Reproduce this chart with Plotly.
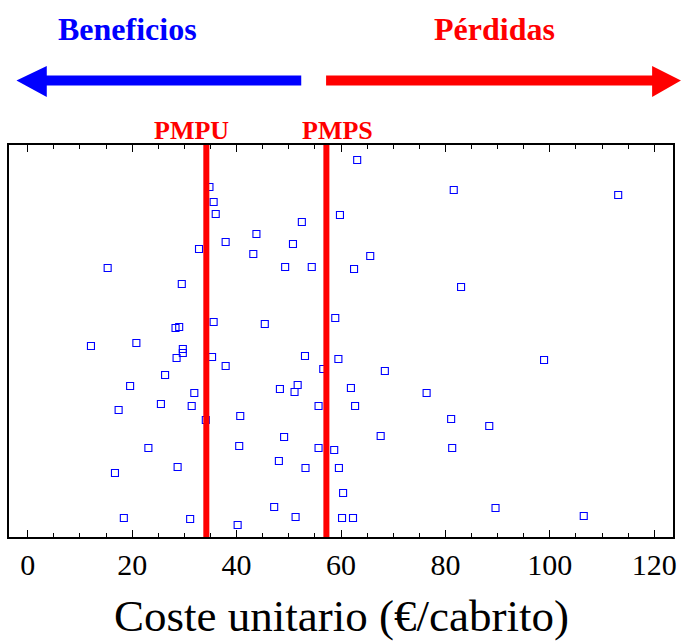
import plotly.graph_objects as go

# Data: unit cost per farm (€/cabrito) and vertical jitter (arbitrary units)
coste = [34.8, 35.6, 36.0, 37.9, 32.8, 15.3, 29.5, 35.6, 28.3, 29.0,
         63.1, 59.8, 52.5, 43.8, 50.8, 43.2, 65.6, 49.3, 54.4, 62.5,
         58.9, 45.4, 81.6, 113.1, 83.0, 12.1, 20.8, 29.7, 29.7, 28.5,
         35.3, 37.9, 26.3, 19.6, 31.9, 25.5, 31.4, 17.4, 34.1, 23.1,
         28.7, 16.7, 18.4, 31.1, 53.1, 59.5, 56.6, 68.4, 48.3, 51.7,
         51.1, 61.9, 76.4, 55.7, 62.7, 40.7, 49.1, 67.6, 40.5, 55.7,
         58.7, 48.1, 53.2, 59.6, 60.4, 47.2, 51.3, 60.2, 62.3, 40.2,
         98.9, 81.1, 88.4, 81.3, 89.6, 106.5]
jitter = [350, 335, 323, 295, 288, 269, 253, 215, 209, 210,
          377, 322, 315, 303, 293, 283, 281, 270, 270, 268,
          219, 213, 347, 342, 250, 191, 194, 188, 184, 179,
          180, 171, 162, 151, 144, 133, 131, 127, 117, 89,
          70, 64, 19, 18, 181, 178, 168, 166, 148, 152,
          145, 149, 144, 131, 131, 121, 100, 101, 91, 89,
          87, 76, 69, 69, 44, 30, 20, 19, 19, 12,
          177, 118, 111, 89, 29, 21]

ref_names = ["PMPU", "PMPS"]
ref_values = [34.2, 57.2]
tick_vals = [0, 20, 40, 60, 80, 100, 120]
tick_text = ["0", "20", "40", "60", "80", "100", "120"]

W, H = 686, 641
L, R, T, B = 9, 9, 145, 104
PW, PH = W - L - R, H - T - B

def px(x):
    return (x - L) / PW

def py(y):
    return (H - B - y) / PH

SERIF = "Liberation Serif, Times New Roman, serif"

fig = go.Figure()
fig.add_trace(go.Scatter(
    x=coste, y=jitter, mode="markers",
    marker=dict(symbol="square-open", size=7, color="#0000ff",
                line=dict(width=1.1, color="#0000ff")),
    showlegend=False, hoverinfo="x",
))

shapes = []
for v in ref_values:
    shapes.append(dict(type="line", xref="x", yref="paper", x0=v, x1=v,
                       y0=0, y1=1, line=dict(color="#ff0000", width=6),
                       layer="above"))

def arrow_path(pts):
    return "M " + " L ".join(f"{px(a):.5f},{py(b):.5f}" for a, b in pts) + " Z"

# blue arrow (left) and red arrow (right)
blue = [(303, 75.5), (47, 75.5), (47, 66), (16.5, 80.5), (47, 97), (47, 85.5), (303, 85.5)]
red = [(328, 75.5), (656, 75.5), (656, 66), (685, 80.5), (656, 97), (656, 85.5), (328, 85.5)]
shapes.append(dict(type="path", xref="paper", yref="paper", path=arrow_path(blue),
                   fillcolor="#0000ff", line=dict(width=0)))
shapes.append(dict(type="path", xref="paper", yref="paper", path=arrow_path(red),
                   fillcolor="#ff0000", line=dict(width=0)))

annotations = [
    dict(text="<b>Beneficios</b>", x=px(128), y=py(29), xref="paper", yref="paper",
         xanchor="center", yanchor="middle", showarrow=False,
         font=dict(family=SERIF, size=32, color="#0000ff")),
    dict(text="<b>Pérdidas</b>", x=px(497.5), y=py(29), xref="paper", yref="paper",
         xanchor="center", yanchor="middle", showarrow=False,
         font=dict(family=SERIF, size=32, color="#ff0000")),
    dict(text="<b>" + ref_names[0] + "</b>", x=px(193), y=py(131), xref="paper", yref="paper",
         xanchor="center", yanchor="middle", showarrow=False,
         font=dict(family=SERIF, size=26, color="#ff0000")),
    dict(text="<b>" + ref_names[1] + "</b>", x=px(339), y=py(131), xref="paper", yref="paper",
         xanchor="center", yanchor="middle", showarrow=False,
         font=dict(family=SERIF, size=26, color="#ff0000")),
    dict(text="Coste unitario (€/cabrito)", x=px(343.5), y=py(616), xref="paper", yref="paper",
         xanchor="center", yanchor="middle", showarrow=False,
         font=dict(family=SERIF, size=45, color="#000000")),
]

fig.update_layout(
    width=W, height=H, margin=dict(l=L, r=R, t=T, b=B, pad=0),
    paper_bgcolor="white", plot_bgcolor="white",
    shapes=shapes, annotations=annotations,
    xaxis=dict(range=[-3.6, 123.6], tickmode="array", tickvals=tick_vals, ticktext=tick_text,
               ticks="inside", ticklen=7, tickwidth=1.2, tickcolor="black",
               showline=True, linecolor="black", linewidth=2, mirror="allticks",
               showgrid=False, zeroline=False,
               tickfont=dict(family=SERIF, size=30, color="black"),
               minor=dict(dtick=5, tick0=0, ticks="inside", ticklen=4, tickwidth=1,
                          tickcolor="black", showgrid=False)),
    yaxis=dict(range=[0, 392], showticklabels=False, ticks="", showgrid=False,
               zeroline=False, showline=True, linecolor="black", linewidth=2, mirror=True),
)

fig.write_html("out.html")
